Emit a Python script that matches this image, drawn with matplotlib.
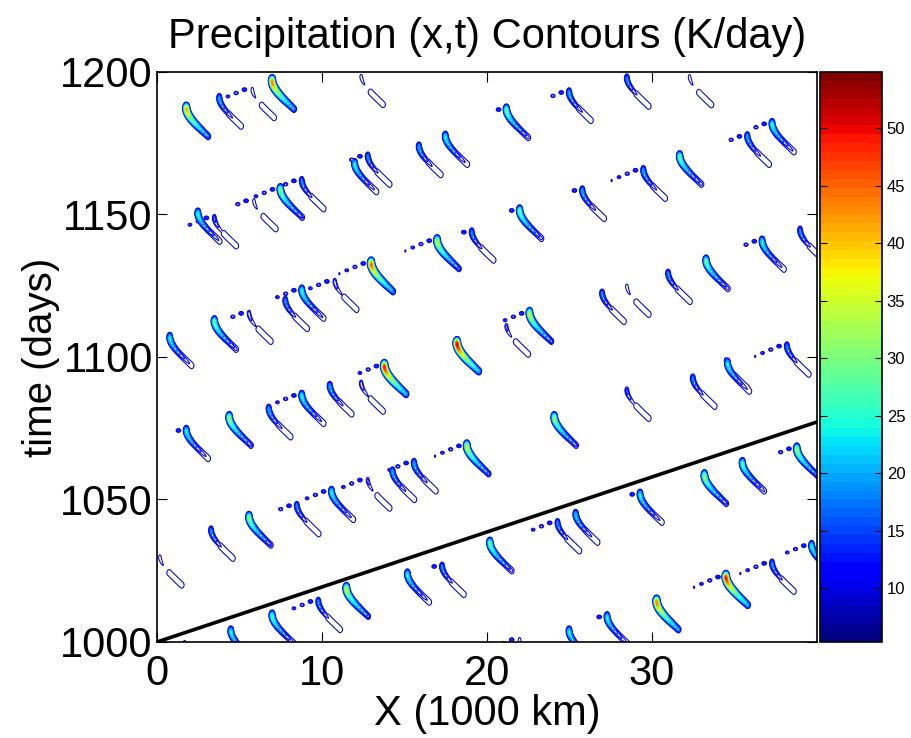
import numpy as np
import matplotlib
matplotlib.use("Agg")
import matplotlib.pyplot as plt
from matplotlib.colors import Normalize

plt.rcParams['font.family'] = ['Liberation Sans', 'DejaVu Sans']

# storm heads: x (1000 km), t (days), peak rain (K/day), trailing small cells
storm_x = [1.8, 3.8, 5.8, 7.0, 12.4, 21.2, 25.0, 28.5, 32.3,
           17.5, 15.9, 12.0, 12.8, 8.8, 7.5, 5.9, 2.5, 3.5, 31.7, 35.8, 37.3, 29.5, 25.8, 22.0,
           13.0, 10.8, 17.0, 19.1, 8.8, 7.8, 5.6, 3.5, 0.8, 18.2, 39.0, 36.7, 33.3, 31.0, 28.5,
           27.0, 22.6, 21.2, 38.2, 34.5,
           13.8, 12.4, 10.5, 8.8, 6.8, 4.4, 1.8, 34.6, 32.5, 28.5, 24.1,
           18.8, 15.6, 14.3, 12.8, 10.6, 8.5, 5.6, 3.3, 0.2, 38.8, 35.5, 33.2, 29.3, 25.4, 24.3, 20.2,
           11.5, 9.8, 7.0, 4.5, 15.2, 17.3, 34.5, 37.3, 39.7, 30.3, 27.3, 25.0, 22.0, 1.7]
storm_t = [1188.4, 1192, 1195, 1198, 1199.6, 1188, 1194, 1199, 1199.5,
           1178.6, 1175, 1169, 1171.6, 1163, 1160, 1156, 1151.6, 1150, 1171.6, 1178.6, 1183,
           1166.7, 1159.6, 1152.6,
           1134, 1127.7, 1142, 1145, 1124.6, 1121, 1116.5, 1113.7, 1108, 1106, 1145.6, 1141.8,
           1135, 1130.5, 1126, 1123.5, 1116.5, 1112, 1105, 1100,
           1098, 1092, 1091, 1087.7, 1083, 1080, 1075.4, 1099, 1093.7, 1089.5, 1080,
           1070, 1064, 1061, 1058, 1054, 1049, 1045, 1040.4, 1031, 1069, 1064, 1059.6, 1053,
           1046, 1043, 1036,
           1020, 1015.4, 1010.5, 1005, 1025, 1027.7, 1024, 1028.8, 1035, 1015.4, 1010, 1005,
           1002, 1001]
storm_peak = [42, 20, 11, 45, 11, 30, 20, 18, 11,
              25, 20, 25, 18, 18, 32, 11, 26, 14, 30, 20, 26, 20, 20, 30,
              46, 13, 36, 18, 26, 18, 13, 30, 25, 52, 18, 25, 30, 18, 11, 18, 36, 12, 18, 12,
              50, 13, 20, 25, 20, 33, 25, 25, 18, 14, 33,
              36, 20, 20, 12, 25, 18, 32, 18, 11, 33, 28, 33, 25, 22, 18, 30,
              36, 18, 28, 25, 25, 18, 50, 18, 25, 45, 25, 25, 11, 11]
storm_dots = [0, 0, 3, 0, 0, 1, 2, 0, 0,
              0, 0, 0, 2, 2, 3, 2, 0, 3, 0, 2, 2, 4, 1, 1,
              4, 3, 4, 1, 3, 0, 2, 0, 0, 0, 0, 2, 0, 0, 0, 0, 3, 0, 4, 0,
              3, 0, 0, 3, 0, 0, 1, 0, 0, 0, 0,
              4, 3, 0, 3, 3, 2, 0, 0, 0, 2, 0, 0, 1, 0, 3, 0,
              0, 3, 0, 0, 0, 1, 4, 4, 3, 0, 1, 0, 3, 0]

line_speed = 1.93  # days per 1000 km, black reference line

x = np.linspace(0, 40, 1201)
t = np.linspace(1000, 1200, 1201)
P = np.zeros((len(t), len(x)))

s = np.linspace(0, 1, 60)
for x0, t0, pk, nd in zip(storm_x, storm_t, storm_peak, storm_dots):
    # crescent shaped storm: head on top, body dropping steeply then tail drifting east
    px = x0 + 1.3 * s ** 1.5 - 0.8 * s * (1 - s) ** 2
    pt = t0 - 11.0 * s
    amp = np.exp(-1.1 * s) * (1 - np.exp(-s / 0.05))
    amp = pk * amp / amp.max()
    ix = np.where((x > x0 - 2.0) & (x < x0 + 3.0))[0]
    it = np.where((t > t0 - 16) & (t < t0 + 6))[0]
    xs, ts = np.meshgrid(x[ix], t[it])
    d2 = ((xs[..., None] - px) / 0.13) ** 2 + ((ts[..., None] - pt) / 1.0) ** 2
    core = (amp * np.exp(-0.5 * d2)).max(-1)
    wide = (10.5 * (s > 0.6) * np.exp(-0.5 * d2 / 4)).max(-1)
    local = np.maximum(core, wide)
    for k in range(1, nd + 1):
        dx = x0 - 0.5 * k
        dt = t0 - 1.2 * k
        local = np.maximum(local, (15 - k) * np.exp(-0.5 * (((xs - dx) / 0.15) ** 2
                                                          + ((ts - dt) / 0.7) ** 2)))
    sub = P[np.ix_(it, ix)]
    P[np.ix_(it, ix)] = np.maximum(sub, local)

fig = plt.figure(figsize=(9.11, 7.38), dpi=100)
ax = fig.add_axes([0.1723, 0.1301, 0.7245, 0.7724])
cax = fig.add_axes([0.9001, 0.1301, 0.068, 0.7724])

cmap = plt.get_cmap('jet', 64)
norm = Normalize(5.3, 54.9)
ax.contour(x, t, P, levels=np.arange(9, 55, 2), cmap=cmap, norm=norm, linewidths=0.75)
ax.plot([0, 40], [1000, 1000 + 40 * line_speed], 'k', lw=2.6)

ax.set_xlim(0, 40)
ax.set_ylim(1000, 1200)
ax.set_xticks([0, 10, 20, 30])
ax.set_yticks([1000, 1050, 1100, 1150, 1200])
ax.tick_params(direction='in', top=True, right=True, length=7, labelsize=30, pad=3)
ax.tick_params(axis='x', pad=9)
for sp in ax.spines.values():
    sp.set_linewidth(1.2)
ax.set_title('Precipitation (x,t) Contours (K/day)', fontsize=30, pad=17)
ax.set_xlabel('X (1000 km)', fontsize=30, labelpad=0)
ax.set_ylabel('time (days)', fontsize=29, labelpad=0)

cb = fig.colorbar(plt.cm.ScalarMappable(norm=norm, cmap=cmap), cax=cax)
cb.set_ticks([10, 15, 20, 25, 30, 35, 40, 45, 50])
cax.tick_params(direction='in', left=True, right=True, length=5, labelsize=12)
cb.outline.set_linewidth(1.2)

plt.savefig('out.png', dpi=100)
